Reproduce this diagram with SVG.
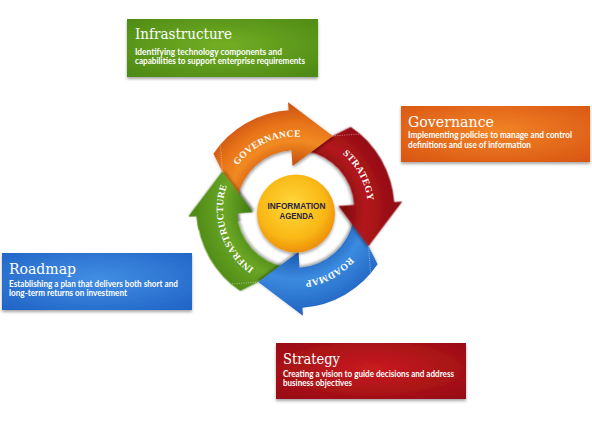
<svg xmlns="http://www.w3.org/2000/svg" xmlns:xlink="http://www.w3.org/1999/xlink" width="592" height="421" viewBox="0 0 592 421">
  <style>
    .title { font-family: "DejaVu Serif", "Liberation Serif", serif; font-size: 14px; fill: #ffffff; }
    .desc { font-family: "Lato", "Open Sans", "Liberation Sans", sans-serif; font-size: 8.6px; font-weight: 700; fill: #ffffff; }
    .ring { font-family: "Liberation Serif", "DejaVu Serif", serif; font-size: 9.6px; font-weight: 700; fill: #ffffff; letter-spacing: 0.3px; }
    .hub { font-family: "Liberation Sans", "DejaVu Sans", sans-serif; font-size: 9.3px; font-weight: 700; fill: #2a2440; }
    .seam { fill: none; stroke: #ffffff; stroke-opacity: 0.6; stroke-width: 0.8; stroke-dasharray: 1 1.3; }
  </style>
  <defs>
    <filter id="boxShadow" x="-10%" y="-20%" width="120%" height="150%">
      <feDropShadow dx="0" dy="2" stdDeviation="1.6" flood-color="#000" flood-opacity="0.35"/>
    </filter>
    <filter id="arrowShadow" x="-20%" y="-20%" width="140%" height="140%">
      <feDropShadow dx="1" dy="1.5" stdDeviation="1.5" flood-color="#000" flood-opacity="0.4"/>
    </filter>
    <radialGradient id="gOrange" gradientUnits="userSpaceOnUse" cx="295.5" cy="209" r="107">
      <stop offset="0.40" stop-color="#c44a0c"/>
      <stop offset="0.64" stop-color="#f28a22"/>
      <stop offset="0.80" stop-color="#e8741a"/>
      <stop offset="1" stop-color="#c94f0e"/>
    </radialGradient>
    <radialGradient id="gRed" gradientUnits="userSpaceOnUse" cx="295.5" cy="209" r="107">
      <stop offset="0.40" stop-color="#77090c"/>
      <stop offset="0.66" stop-color="#b3161c"/>
      <stop offset="1" stop-color="#8a0b10"/>
    </radialGradient>
    <radialGradient id="gBlue" gradientUnits="userSpaceOnUse" cx="295.5" cy="209" r="107">
      <stop offset="0.40" stop-color="#1a56b0"/>
      <stop offset="0.66" stop-color="#3b8be0"/>
      <stop offset="1" stop-color="#2062c0"/>
    </radialGradient>
    <radialGradient id="gGreen" gradientUnits="userSpaceOnUse" cx="295.5" cy="209" r="107">
      <stop offset="0.40" stop-color="#3f7a10"/>
      <stop offset="0.66" stop-color="#6aa625"/>
      <stop offset="1" stop-color="#4a8614"/>
    </radialGradient>
    <radialGradient id="gHub" cx="0.45" cy="0.4" r="0.6">
      <stop offset="0" stop-color="#ffd83c"/>
      <stop offset="0.7" stop-color="#f9b815"/>
      <stop offset="1" stop-color="#ee900a"/>
    </radialGradient>
    <radialGradient id="bGreen" cx="0.5" cy="0.45" r="0.7">
      <stop offset="0" stop-color="#72ae24"/>
      <stop offset="1" stop-color="#4e8a15"/>
    </radialGradient>
    <radialGradient id="bOrange" cx="0.5" cy="0.45" r="0.7">
      <stop offset="0" stop-color="#f28426"/>
      <stop offset="1" stop-color="#d95714"/>
    </radialGradient>
    <radialGradient id="bBlue" cx="0.5" cy="0.45" r="0.7">
      <stop offset="0" stop-color="#428ee4"/>
      <stop offset="1" stop-color="#2265c6"/>
    </radialGradient>
    <radialGradient id="bRed" cx="0.5" cy="0.45" r="0.7">
      <stop offset="0" stop-color="#c81b20"/>
      <stop offset="1" stop-color="#970d12"/>
    </radialGradient>
    <path id="arrowShape" d="M 222.44,171.77 L 213.42,153.64 A 99 99 0 0 1 288.59,110.24 L 288.04,102.26 L 332.73,135.94 L 292.50,166.10 L 291.38,150.14 A 59 59 0 0 0 237.40,198.75 Z"/>
    <path id="seamShape" d="M 222.44,171.77 L 220.52,144.37"/>
    <clipPath id="greenHeadClip">
      <polygon points="295.5,209 168.34,236.03 160,200 173.34,164.54 211.94,109.41"/>
    </clipPath>
    <path id="tpGov" d="M 223.33,202.05 A 72.5 72.5 0 0 1 337.60,149.98"/>
    <path id="tpStr" d="M 298.03,136.54 A 72.5 72.5 0 0 1 356.98,247.42"/>
    <path id="tpRoad" d="M 367.96,211.53 A 72.5 72.5 0 0 1 257.08,270.48"/>
    <path id="tpInf" d="M 280.43,279.92 A 72.5 72.5 0 0 1 241.62,160.49"/>
  </defs>

  <rect width="592" height="421" fill="#ffffff"/>

  <!-- Description boxes -->
  <g id="box-infrastructure">
    <rect x="127" y="19" width="191" height="58" fill="url(#bGreen)" filter="url(#boxShadow)"/>
    <text class="title" x="135" y="39" textLength="97" lengthAdjust="spacingAndGlyphs">Infrastructure</text>
    <text class="desc" x="135" y="54.5" textLength="147" lengthAdjust="spacingAndGlyphs">Identifying technology components and</text>
    <text class="desc" x="135" y="64" textLength="170" lengthAdjust="spacingAndGlyphs">capabilities to support enterprise requirements</text>
  </g>
  <g id="box-governance">
    <rect x="401" y="106" width="189" height="56" fill="url(#bOrange)" filter="url(#boxShadow)"/>
    <text class="title" x="408" y="126.5" textLength="86" lengthAdjust="spacingAndGlyphs">Governance</text>
    <text class="desc" x="408" y="138" textLength="164" lengthAdjust="spacingAndGlyphs">Implementing policies to manage and control</text>
    <text class="desc" x="408" y="148" textLength="123" lengthAdjust="spacingAndGlyphs">definitions and use of information</text>
  </g>
  <g id="box-roadmap">
    <rect x="2" y="253" width="190" height="57" fill="url(#bBlue)" filter="url(#boxShadow)"/>
    <text class="title" x="9" y="274" textLength="67" lengthAdjust="spacingAndGlyphs">Roadmap</text>
    <text class="desc" x="9" y="287" textLength="169" lengthAdjust="spacingAndGlyphs">Establishing a plan that delivers both short and</text>
    <text class="desc" x="9" y="296" textLength="118" lengthAdjust="spacingAndGlyphs">long-term returns on investment</text>
  </g>
  <g id="box-strategy">
    <rect x="276" y="343" width="190" height="56" fill="url(#bRed)" filter="url(#boxShadow)"/>
    <text class="title" x="283" y="364" textLength="57" lengthAdjust="spacingAndGlyphs">Strategy</text>
    <text class="desc" x="283" y="377" textLength="171" lengthAdjust="spacingAndGlyphs">Creating a vision to guide decisions and address</text>
    <text class="desc" x="283" y="386" textLength="69" lengthAdjust="spacingAndGlyphs">business objectives</text>
  </g>

  <!-- Cycle arrows -->
  <g id="arrow-infrastructure">
    <use xlink:href="#arrowShape" href="#arrowShape" fill="url(#gGreen)" filter="url(#arrowShadow)" transform="rotate(270 295.5 209)"/>
  </g>
  <g id="arrow-roadmap">
    <use xlink:href="#arrowShape" href="#arrowShape" fill="url(#gBlue)" filter="url(#arrowShadow)" transform="rotate(180 295.5 209)"/>
  </g>
  <g id="arrow-strategy">
    <use xlink:href="#arrowShape" href="#arrowShape" fill="url(#gRed)" filter="url(#arrowShadow)" transform="rotate(90 295.5 209)"/>
  </g>
  <g id="arrow-governance">
    <use xlink:href="#arrowShape" href="#arrowShape" fill="url(#gOrange)" filter="url(#arrowShadow)"/>
  </g>
  <g id="arrow-infrastructure-head" clip-path="url(#greenHeadClip)">
    <use xlink:href="#arrowShape" href="#arrowShape" fill="url(#gGreen)" filter="url(#arrowShadow)" transform="rotate(270 295.5 209)"/>
  </g>

  <g id="seams">
    <use xlink:href="#seamShape" href="#seamShape" class="seam"/>
    <use xlink:href="#seamShape" href="#seamShape" class="seam" transform="rotate(90 295.5 209)"/>
    <use xlink:href="#seamShape" href="#seamShape" class="seam" transform="rotate(180 295.5 209)"/>
    <use xlink:href="#seamShape" href="#seamShape" class="seam" transform="rotate(270 295.5 209)"/>
  </g>

  <g id="ring-labels">
    <text class="ring"><textPath xlink:href="#tpGov" href="#tpGov" startOffset="50%" text-anchor="middle">GOVERNANCE</textPath></text>
    <text class="ring"><textPath xlink:href="#tpStr" href="#tpStr" startOffset="50%" text-anchor="middle">STRATEGY</textPath></text>
    <text class="ring"><textPath xlink:href="#tpRoad" href="#tpRoad" startOffset="50%" text-anchor="middle">ROADMAP</textPath></text>
    <text class="ring"><textPath xlink:href="#tpInf" href="#tpInf" startOffset="50%" text-anchor="middle">INFRASTRUCTURE</textPath></text>
  </g>

  <!-- Hub -->
  <g id="information-agenda">
    <circle cx="296" cy="213.5" r="39" fill="url(#gHub)" filter="url(#boxShadow)"/>
    <text class="hub" x="296.5" y="209" text-anchor="middle" textLength="58" lengthAdjust="spacingAndGlyphs">INFORMATION</text>
    <text class="hub" x="296.5" y="219" text-anchor="middle" textLength="34" lengthAdjust="spacingAndGlyphs">AGENDA</text>
  </g>
</svg>
